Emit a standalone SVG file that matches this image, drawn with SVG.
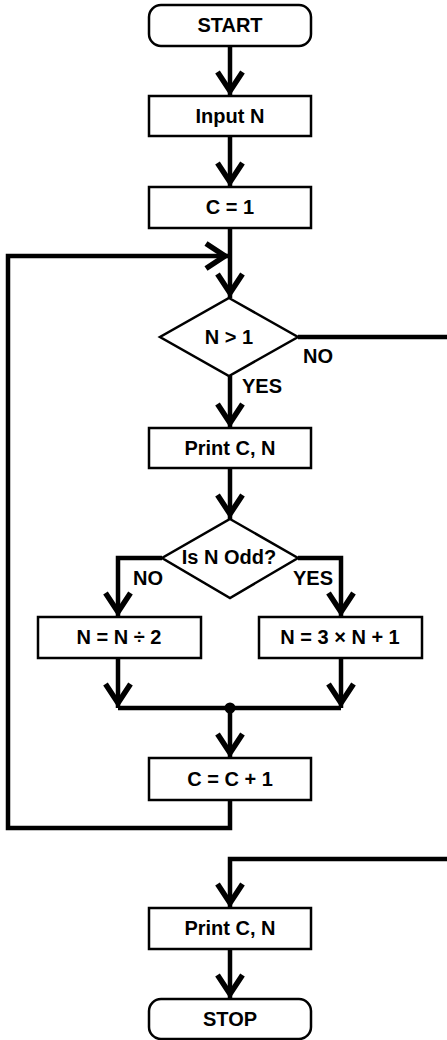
<svg xmlns="http://www.w3.org/2000/svg" width="447" height="1040" viewBox="0 0 447 1040">
<style>
.box{fill:#fff;stroke:#000;stroke-width:2.5}
.t{font-family:"Liberation Sans",Arial,sans-serif;font-weight:bold;font-size:20px;fill:#000;text-anchor:middle}
.l{font-family:"Liberation Sans",Arial,sans-serif;font-weight:bold;font-size:20px;fill:#000}
.c{fill:none;stroke:#000;stroke-width:4.5;stroke-linejoin:miter}
</style>
<defs>
<marker id="arr" viewBox="-26 -15 30 30" refX="0" refY="0" markerWidth="30" markerHeight="30" markerUnits="userSpaceOnUse" orient="auto">
<path d="M-24,-12.5 L-5,0 L-24,12.5" fill="none" stroke="#000" stroke-width="5.5" stroke-linejoin="miter"/>
</marker>
</defs>
<rect width="447" height="1040" fill="#fff"/>
<g id="connectors">
<path class="c" d="M230,46 V96" marker-end="url(#arr)"/>
<path class="c" d="M230,136 V187" marker-end="url(#arr)"/>
<path class="c" d="M230,228 V298" marker-end="url(#arr)"/>
<path class="c" d="M298,337 H450"/>
<path class="c" d="M230,376 V428" marker-end="url(#arr)"/>
<path class="c" d="M230,468 V519" marker-end="url(#arr)"/>
<path class="c" d="M162,558 H118 V617" marker-end="url(#arr)"/>
<path class="c" d="M298,558 H341 V617" marker-end="url(#arr)"/>
<path class="c" d="M118,658 V708" marker-end="url(#arr)"/>
<path class="c" d="M341,658 V708" marker-end="url(#arr)"/>
<path class="c" d="M118,708 H341"/>
<circle cx="230" cy="708" r="5.5" fill="#000"/>
<path class="c" d="M230,708 V758" marker-end="url(#arr)"/>
<path class="c" d="M230,800 V828 H8 V256 H230" marker-end="url(#arr)"/>
<path class="c" d="M450,859 H230 V908" marker-end="url(#arr)"/>
<path class="c" d="M230,949 V999" marker-end="url(#arr)"/>
<text class="l" x="303" y="363">NO</text>
<text class="l" x="242" y="393">YES</text>
<text class="l" x="133" y="585">NO</text>
<text class="l" x="293" y="585">YES</text>
</g>
<g id="start"><rect class="box" x="149" y="5" width="162" height="41" rx="12"/><text class="t" x="230" y="32">START</text></g>
<g id="input"><rect class="box" x="149" y="96" width="162" height="40"/><text class="t" x="230" y="123">Input N</text></g>
<g id="c1"><rect class="box" x="149" y="187" width="162" height="41"/><text class="t" x="230" y="214">C = 1</text></g>
<g id="d1"><polygon class="box" points="229,298 298,337 229,376 160,337"/><text class="t" x="229" y="344">N &gt; 1</text></g>
<g id="print1"><rect class="box" x="149" y="428" width="162" height="40"/><text class="t" x="230" y="455">Print C, N</text></g>
<g id="d2"><polygon class="box" points="230,519 298,558 230,598 162,558"/><text class="t" x="229" y="564">Is N Odd?</text></g>
<g id="half"><rect class="box" x="38" y="617" width="163" height="41"/><text class="t" x="119" y="644">N = N ÷ 2</text></g>
<g id="triple"><rect class="box" x="259" y="617" width="163" height="41"/><text class="t" x="340" y="644">N = 3 × N + 1</text></g>
<g id="inc"><rect class="box" x="149" y="758" width="162" height="42"/><text class="t" x="230" y="786">C = C + 1</text></g>
<g id="print2"><rect class="box" x="149" y="908" width="162" height="41"/><text class="t" x="230" y="935">Print C, N</text></g>
<g id="stop"><rect class="box" x="149" y="999" width="162" height="40" rx="12"/><text class="t" x="230" y="1026">STOP</text></g>
</svg>
